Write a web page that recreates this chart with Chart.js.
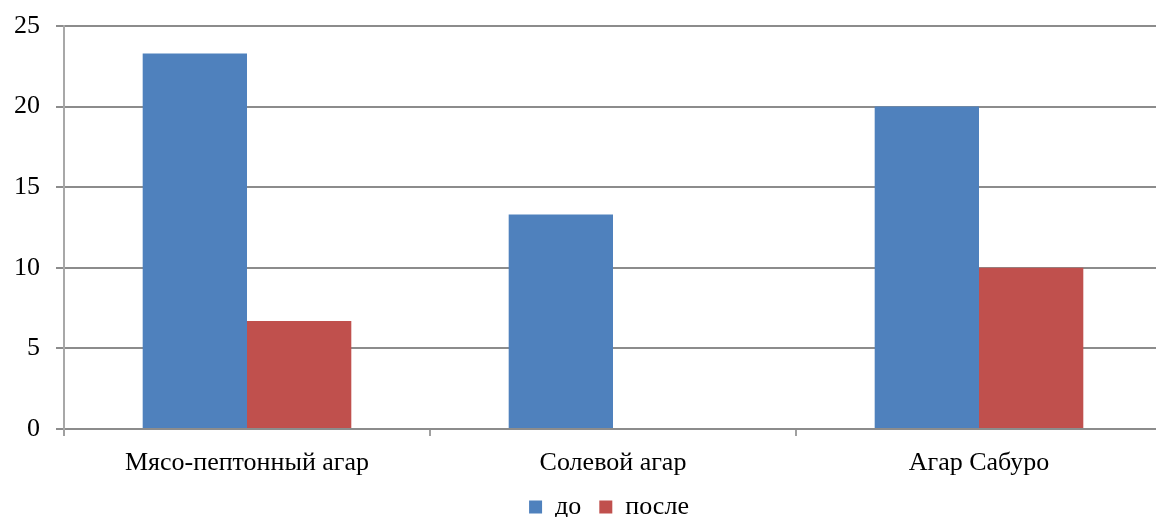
<!DOCTYPE html>
<html>
<head>
<meta charset="utf-8">
<script src="https://cdn.jsdelivr.net/npm/chart.js@4"></script>
<style>
  html, body { margin: 0; padding: 0; background: #fff; overflow: hidden; }
  #wrap { width: 1156px; height: 517px; overflow: hidden; }
</style>
</head>
<body>
<div id="wrap"><canvas id="myChart" width="1162" height="517"></canvas></div>
<script>
var labels = ["Мясо-пептонный агар", "Солевой агар", "Агар Сабуро"];
var before = [23.3, 13.3, 20];
var after = [6.7, 0, 10];
var seriesNames = ["до", "после"];

var serif = "'Liberation Serif', 'Times New Roman', serif";

// legend in the original sits a bit right of centre
var legendShift = {
    id: 'legendShift',
    afterLayout: function (chart) {
        if (chart.legend) {
            chart.legend.left += 28;
            chart.legend.right += 28;
        }
    }
};

function renderChart() {
    var ctx = document.getElementById("myChart").getContext('2d');
    var myChart = new Chart(ctx, {
        type: 'bar',
        data: {
            labels: labels,
            datasets: [{
                label: seriesNames[0],
                data: before,
                backgroundColor: '#4F81BD',
                borderWidth: 0
            }, {
                label: seriesNames[1],
                data: after,
                backgroundColor: '#C0504D',
                borderWidth: 0
            }]
        },
        options: {
            responsive: false,
            animation: false,
            layout: { padding: { top: 26, right: 0, bottom: -13, left: 0 } },
            datasets: {
                bar: { categoryPercentage: 0.57, barPercentage: 1.0 }
            },
            plugins: {
                tooltip: { enabled: false },
                legend: {
                    position: 'bottom',
                    labels: {
                        color: '#000',
                        font: { family: serif, size: 26, lineHeight: 1.0 },
                        boxWidth: 13,
                        boxHeight: 13,
                        padding: 18
                    }
                }
            },
            scales: {
                x: {
                    afterFit: function (scale) { scale.height = 47; },
                    grid: {
                        drawOnChartArea: false,
                        offset: true,
                        tickLength: 7,
                        color: '#a0a0a0',
                        lineWidth: 2
                    },
                    border: { color: '#8c8c8c', width: 2 },
                    ticks: {
                        color: '#000',
                        font: { family: serif, size: 26, lineHeight: 1.0 },
                        padding: 14,
                        maxRotation: 0
                    }
                },
                y: {
                    min: 0,
                    max: 25,
                    afterFit: function (scale) {
                        scale.width = 64;
                        scale.paddingTop = 0;
                        scale.paddingBottom = 0;
                    },
                    grid: {
                        color: '#8c8c8c',
                        lineWidth: 2,
                        tickLength: 8
                    },
                    border: { color: '#a8a8a8', width: 2 },
                    ticks: {
                        stepSize: 5,
                        color: '#000',
                        font: { family: serif, size: 26 },
                        padding: 16
                    }
                }
            }
        },
        plugins: [legendShift]
    });
}

renderChart();
</script>
</body>
</html>
